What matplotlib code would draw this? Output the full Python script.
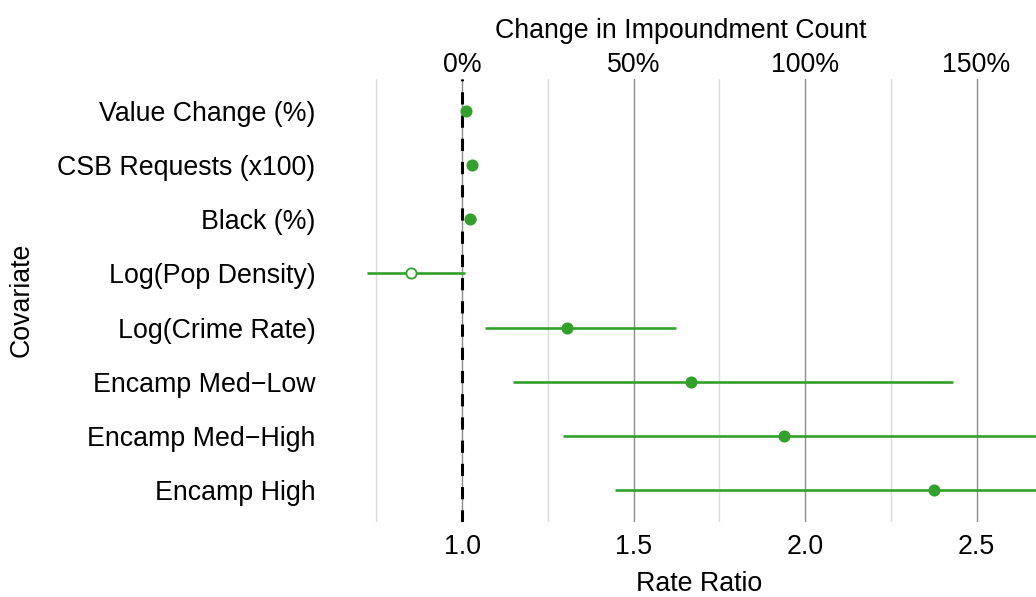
"""Forest plot of rate ratios for impoundment count covariates."""

import matplotlib
matplotlib.use("Agg")
import matplotlib.pyplot as plt
from matplotlib.ticker import FixedLocator, FuncFormatter

plt.rcParams["font.family"] = ["Liberation Sans", "DejaVu Sans"]

COVARIATES = [
    "Value Change (%)",
    "CSB Requests (x100)",
    "Black (%)",
    "Log(Pop Density)",
    "Log(Crime Rate)",
    "Encamp Med\u2212Low",
    "Encamp Med\u2212High",
    "Encamp High",
]
RATE_RATIO = [1.012, 1.030, 1.022, 0.850, 1.307, 1.667, 1.940, 2.377]
CI_LOW = [1.006, 1.024, 1.008, 0.722, 1.067, 1.147, 1.294, 1.446]
CI_HIGH = [1.018, 1.036, 1.041, 1.007, 1.624, 2.431, 2.91, 3.91]
SIGNIFICANT = [True, True, True, False, True, True, True, True]

X_MAJOR = [1.0, 1.5, 2.0, 2.5]
X_MINOR = [0.75, 1.25, 1.75, 2.25]
PCT_TICKS = [0, 50, 100, 150]

GREEN = "#33a02c"
W, H = 1036, 597
FS = 19.3


def main():
    fig = plt.figure(figsize=(W / 100, H / 100), dpi=100)
    left, right, top, bottom = 325, 1036, 79, 522
    ax = fig.add_axes([left / W, 1 - bottom / H, (right - left) / W, (bottom - top) / H])

    # grid lines
    for x in X_MINOR:
        ax.axvline(x, color="#dcdcdc", lw=1.0, zorder=0)
    for x in X_MAJOR:
        ax.axvline(x, color="#8c8c8c", lw=1.0, zorder=0)
    ax.axvline(1.0, color="black", lw=2.2, dashes=(4, 3.6), zorder=1)

    ypos = list(range(len(COVARIATES)))
    for y, est, lo, hi, sig in zip(ypos, RATE_RATIO, CI_LOW, CI_HIGH, SIGNIFICANT):
        ax.plot([lo, hi], [y, y], color=GREEN, lw=1.9, solid_capstyle="butt", zorder=2)
        ax.plot(est, y, "o", ms=7.4, mec=GREEN, mew=1.3,
                mfc=GREEN if sig else "white", zorder=3)

    ax.set_xlim(0.6, 1 + (right - 462.5) / 342.7)
    ax.set_ylim(len(COVARIATES) - 1 + 0.6, -0.6)
    ax.set_yticks(ypos)
    ax.set_yticklabels(COVARIATES, fontsize=FS)
    ax.xaxis.set_major_locator(FixedLocator(X_MAJOR))
    ax.xaxis.set_major_formatter(FuncFormatter(lambda v, _: f"{v:.1f}"))
    ax.tick_params(axis="both", length=0, labelsize=FS)
    ax.tick_params(axis="x", pad=9)
    ax.tick_params(axis="y", pad=7)
    for s in ax.spines.values():
        s.set_visible(False)

    sec = ax.secondary_xaxis("top", functions=(lambda r: (r - 1) * 100,
                                               lambda p: p / 100 + 1))
    sec.xaxis.set_major_locator(FixedLocator(PCT_TICKS))
    sec.xaxis.set_major_formatter(FuncFormatter(lambda v, _: f"{v:.0f}%"))
    sec.tick_params(length=0, labelsize=FS, pad=0.5)
    sec.spines["top"].set_visible(False)
    sec.set_xlabel("Change in Impoundment Count", fontsize=FS, labelpad=10)

    ax.set_xlabel("Rate Ratio", fontsize=FS)
    ax.xaxis.set_label_coords((699 - left) / (right - left), -(584 - bottom) / (bottom - top),
                              transform=ax.transAxes)
    ax.xaxis.label.set_va("center")

    fig.text(22 / W, 1 - 300 / H, "Covariate", rotation=90, fontsize=FS,
             ha="center", va="center")

    fig.savefig("out.png", dpi=100)
    plt.close(fig)


if __name__ == "__main__":
    main()
